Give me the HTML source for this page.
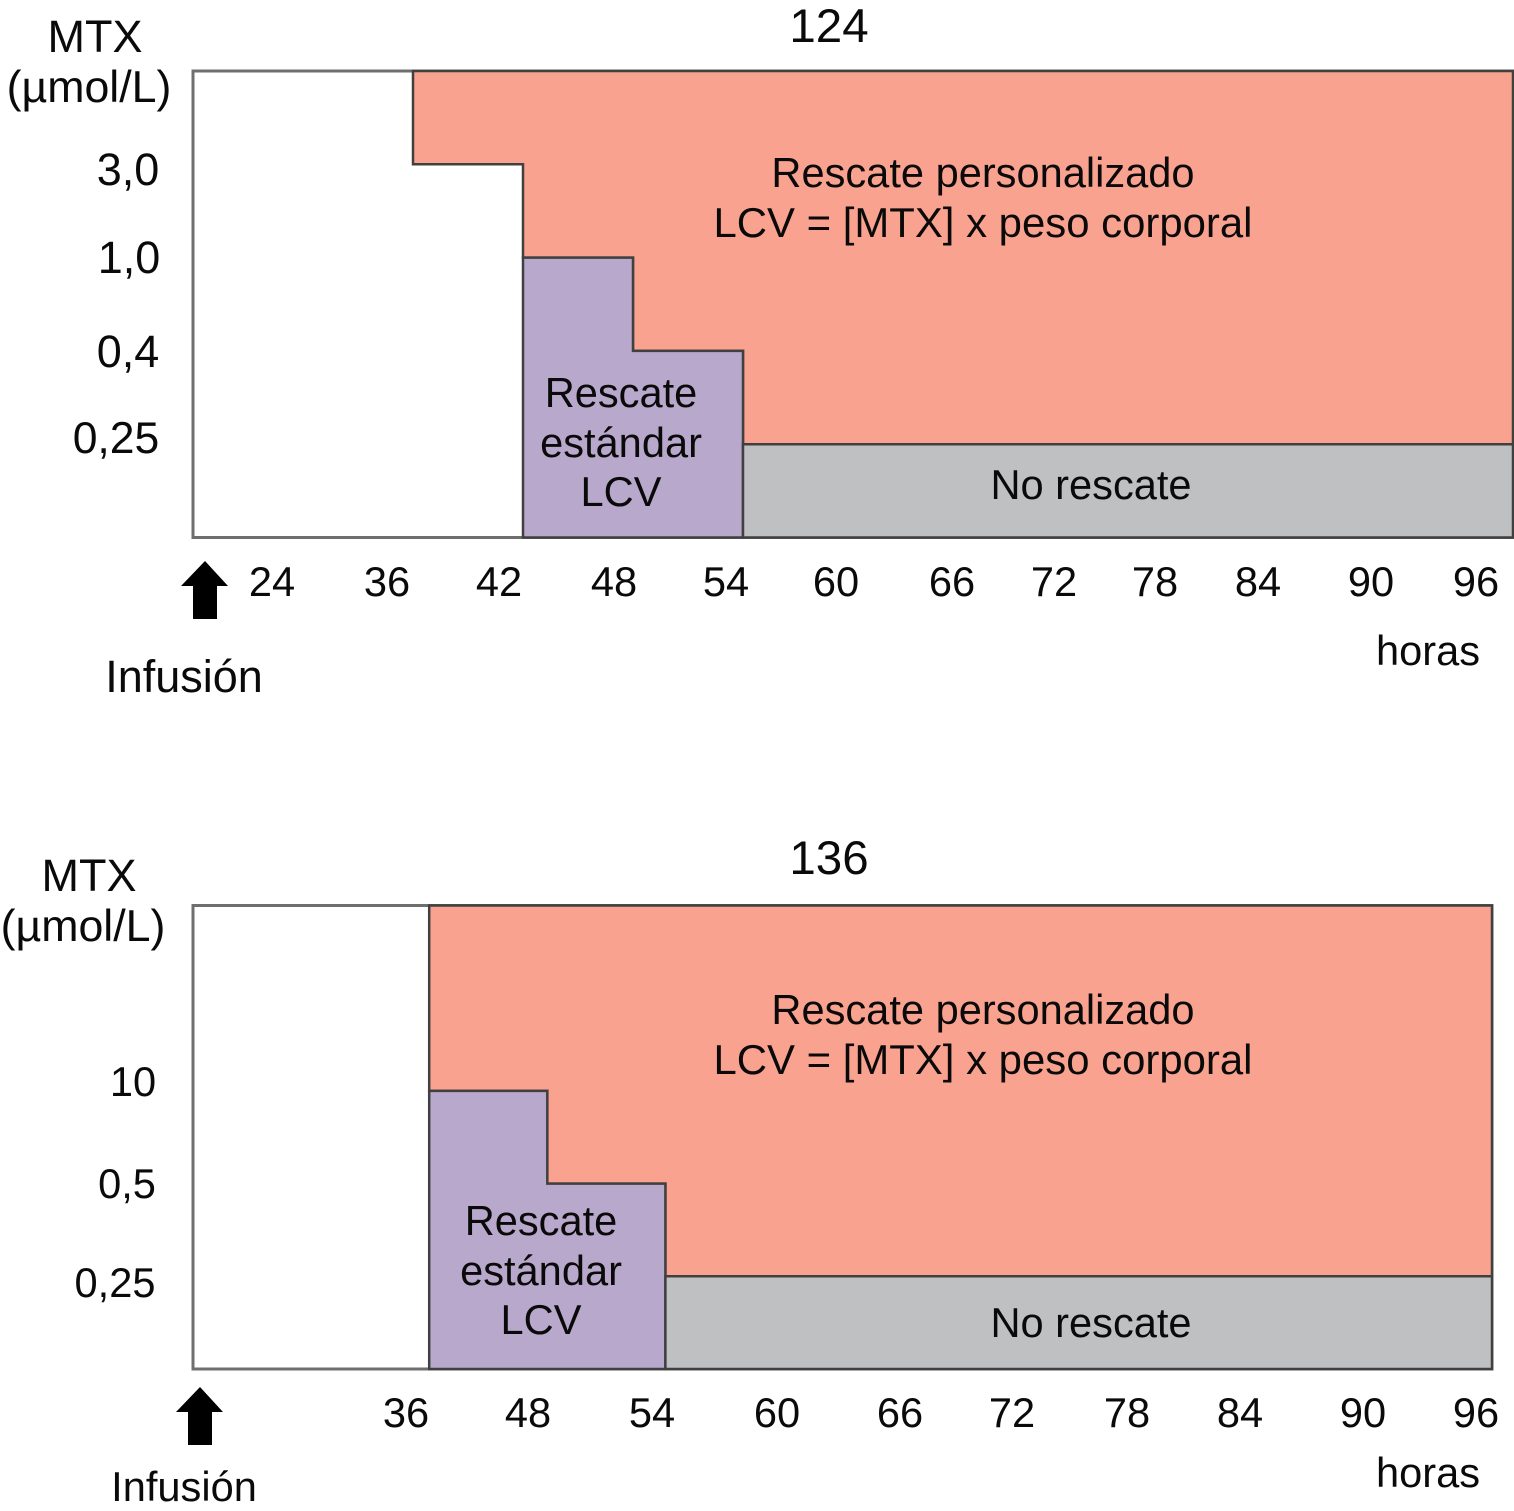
<!DOCTYPE html>
<html lang="es">
<head>
<meta charset="utf-8">
<title>Rescate con LCV según MTX</title>
<style>
html,body{margin:0;padding:0;background:#fff;width:1514px;height:1511px;overflow:hidden}
svg{display:block}
text{font-family:"Liberation Sans",Arial,sans-serif;font-size:41.6px;fill:#0a0a0a;text-anchor:middle}
</style>
</head>
<body>
<svg id="figure" xmlns="http://www.w3.org/2000/svg" width="1514" height="1511" viewBox="0 0 1514 1511">
  <g id="marks-124"></g>
  <g id="marks-136"></g>

  <g>
    <text x="829" y="42" style="font-size:47.5px">124</text>
    <text x="95" y="52" style="font-size:45px">MTX</text>
    <text x="89" y="102" style="font-size:44.7px">(µmol/L)</text>
    <text x="128" y="185" style="font-size:45px">3,0</text>
    <text x="129" y="273" style="font-size:45px">1,0</text>
    <text x="128" y="367" style="font-size:45px">0,4</text>
    <text x="116" y="453" style="font-size:44.5px">0,25</text>
    <text x="272" y="596">24</text>
    <text x="387" y="596">36</text>
    <text x="499" y="596">42</text>
    <text x="614" y="596">48</text>
    <text x="726" y="596">54</text>
    <text x="836" y="596">60</text>
    <text x="952" y="596">66</text>
    <text x="1054" y="596">72</text>
    <text x="1155" y="596">78</text>
    <text x="1258" y="596">84</text>
    <text x="1371" y="596">90</text>
    <text x="1476" y="596">96</text>
    <text x="1428" y="665">horas</text>
    <text x="184" y="692" style="font-size:45px">Infusión</text>
    <polygon points="205,561 228,586 217,586 217,619 193,619 193,586 181,586" fill="#000"/>
    <text x="983" y="187">Rescate personalizado</text>
    <text x="983" y="237" style="font-size:41.9px">LCV = [MTX] x peso corporal</text>
    <text x="621" y="407">Rescate</text>
    <text x="621" y="457">estándar</text>
    <text x="621" y="506">LCV</text>
    <text x="1091" y="499">No rescate</text>
  </g>

  <g>
    <text x="829" y="874" style="font-size:47.5px">136</text>
    <text x="89" y="891" style="font-size:45px">MTX</text>
    <text x="83" y="941" style="font-size:44.7px">(µmol/L)</text>
    <text x="133" y="1096">10</text>
    <text x="127" y="1198">0,5</text>
    <text x="115" y="1297">0,25</text>
    <text x="406" y="1427">36</text>
    <text x="528" y="1427">48</text>
    <text x="652" y="1427">54</text>
    <text x="777" y="1427">60</text>
    <text x="900" y="1427">66</text>
    <text x="1012" y="1427">72</text>
    <text x="1127" y="1427">78</text>
    <text x="1240" y="1427">84</text>
    <text x="1363" y="1427">90</text>
    <text x="1476" y="1427">96</text>
    <text x="1428" y="1487">horas</text>
    <text x="184" y="1501">Infusión</text>
    <polygon points="200,1387 223,1412 212,1412 212,1445 188,1445 188,1412 176,1412" fill="#000"/>
    <text x="983" y="1024">Rescate personalizado</text>
    <text x="983" y="1074" style="font-size:41.9px">LCV = [MTX] x peso corporal</text>
    <text x="541" y="1235">Rescate</text>
    <text x="541" y="1285">estándar</text>
    <text x="541" y="1334">LCV</text>
    <text x="1091" y="1337">No rescate</text>
  </g>
</svg>

<script>
// Chart 124: axis stops (hours, µmol/L) and rescue limits
const axisHours124 = [24, 30, 36, 42, 48, 54, 60, 66, 72, 78, 84, 90, 96];
const axisLevels124 = [10, 3.0, 1.0, 0.4, 0.25, 0];
const limitHours124 = [36, 42, 48, 54];
const limitLevels124 = [3.0, 1.0, 0.4, 0.25];
const standardHours124 = [42, 48, 54];
const standardLevels124 = [1.0, 0.4, 0.25];

// Chart 136: axis stops (hours, µmol/L) and rescue limits
const axisHours136 = [12, 24, 36, 48, 54, 60, 66, 72, 78, 84, 90, 96];
const axisLevels136 = [1000, 100, 10, 0.5, 0.25, 0];
const limitHours136 = [36, 48, 54];
const limitLevels136 = [10, 0.5, 0.25];
const standardHours136 = [36, 48, 54];
const standardLevels136 = [10, 0.5, 0.25];

const SVG_NS = 'http://www.w3.org/2000/svg';

// Ordinal-style scale: stops are evenly spaced, values between stops interpolate.
function stopScale(stops, pxStart, pxEnd) {
  const band = (pxEnd - pxStart) / (stops.length - 1);
  return function (value) {
    for (let i = 0; i < stops.length - 1; i++) {
      const a = stops[i], b = stops[i + 1];
      if ((value >= a && value <= b) || (value <= a && value >= b)) {
        return pxStart + band * (i + (value - a) / (b - a));
      }
    }
    return value < Math.min(stops[0], stops[stops.length - 1]) ? (stops[0] < stops[1] ? pxStart : pxEnd)
                                                                 : (stops[0] < stops[1] ? pxEnd : pxStart);
  };
}

// Walks a descending staircase: right along each level, then down to the next one.
function staircase(hours, levels, x, y) {
  const pts = [];
  for (let i = 0; i < hours.length; i++) {
    pts.push([x(hours[i]), y(levels[i])]);
    if (i < hours.length - 1) pts.push([x(hours[i + 1]), y(levels[i])]);
  }
  return pts;
}

function toPoints(pts) {
  return pts.map(function (p) { return p[0].toFixed(1) + ',' + p[1].toFixed(1); }).join(' ');
}

function drawChart(groupId, axisHours, axisLevels, limitHours, limitLevels, standardHours, standardLevels, box) {
  const group = document.getElementById(groupId);
  const x = stopScale(axisHours, box.left, box.right);
  const y = stopScale(axisLevels, box.top, box.bottom);
  const startH = axisHours[0], endH = axisHours[axisHours.length - 1];
  const topL = axisLevels[0], botL = axisLevels[axisLevels.length - 1];

  const frame = document.createElementNS(SVG_NS, 'polygon');
  
  
  frame.setAttribute('points', toPoints([[x(startH), y(topL)], [x(endH), y(topL)], [x(endH), y(botL)], [x(startH), y(botL)]]));
  frame.setAttribute('fill', '#fff');
  frame.setAttribute('stroke', '#6f6f6f');
  frame.setAttribute('stroke-width', '3');
  group.appendChild(frame);

  const lastLimit = limitHours.length - 1;
  const red = document.createElementNS(SVG_NS, 'polygon');
  
  
  red.setAttribute('points', toPoints(
    [[x(limitHours[0]), y(topL)]]
      .concat(staircase(limitHours, limitLevels, x, y))
      .concat([[x(endH), y(limitLevels[lastLimit])], [x(endH), y(topL)]])
  ));
  red.setAttribute('fill', '#f9a28f');
  red.setAttribute('stroke', '#404040');
  red.setAttribute('stroke-width', '2.5');
  group.appendChild(red);

  const lastStd = standardHours.length - 1;
  const purple = document.createElementNS(SVG_NS, 'polygon');
  
  
  purple.setAttribute('points', toPoints(
    staircase(standardHours, standardLevels, x, y)
      .concat([[x(standardHours[lastStd]), y(botL)], [x(standardHours[0]), y(botL)]])
  ));
  purple.setAttribute('fill', '#b8a8cb');
  purple.setAttribute('stroke', '#404040');
  purple.setAttribute('stroke-width', '2.5');
  group.appendChild(purple);

  const gray = document.createElementNS(SVG_NS, 'polygon');
  
  
  gray.setAttribute('points', toPoints([
    [x(limitHours[lastLimit]), y(limitLevels[lastLimit])],
    [x(endH), y(limitLevels[lastLimit])],
    [x(endH), y(botL)],
    [x(limitHours[lastLimit]), y(botL)]
  ]));
  gray.setAttribute('fill', '#bfc0c2');
  gray.setAttribute('stroke', '#404040');
  gray.setAttribute('stroke-width', '2.5');
  group.appendChild(gray);
}

drawChart('marks-124', axisHours124, axisLevels124, limitHours124, limitLevels124, standardHours124, standardLevels124,
  { left: 193, right: 1513, top: 71, bottom: 537.5 });
drawChart('marks-136', axisHours136, axisLevels136, limitHours136, limitLevels136, standardHours136, standardLevels136,
  { left: 193, right: 1492, top: 905.5, bottom: 1369 });
</script>
</body>
</html>
